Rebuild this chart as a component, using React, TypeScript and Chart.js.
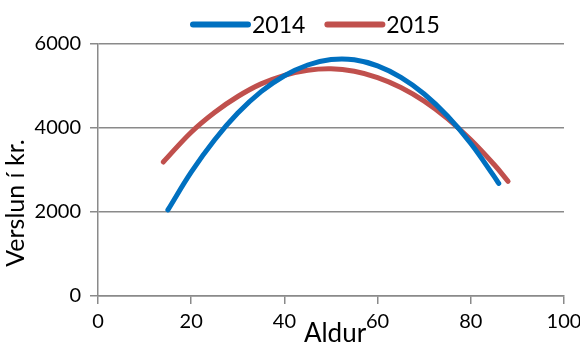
import React, { useEffect, useRef } from "react";
import { Chart, registerables } from "chart.js";

Chart.register(...registerables);

const seriesNames = ["2014", "2015"];
const ages2014 = [15, 20, 25, 30, 35, 40, 45, 50, 55, 60, 65, 70, 75, 80, 85, 86];
const spend2014 = [2050, 2950, 3716, 4355, 4865, 5245, 5500, 5630, 5625, 5480, 5206, 4810, 4285, 3631, 2847, 2680];
const ages2015 = [14, 20, 25, 30, 35, 40, 45, 50, 55, 60, 65, 70, 75, 80, 85, 88];
const spend2015 = [3190, 3900, 4370, 4750, 5050, 5255, 5375, 5410, 5350, 5200, 4965, 4640, 4225, 3720, 3130, 2730];
const seriesColors = ["#0070C0", "#C0504D"];
const xTickValues = [0, 20, 40, 60, 80, 100];
const yTickValues = [0, 2000, 4000, 6000];
const xTitle = "Aldur";
const yTitle = "Verslun í kr.";

const FONT = "Lato";
const GRID = "#8a8a8a";

const labelsPlugin = {
  id: "customLabels",
  afterDraw(chart: any) {
    const ctx = chart.ctx;
    const area = chart.chartArea;
    ctx.save();
    // legend
    ctx.font = `23px ${FONT}`;
    ctx.textBaseline = "middle";
    ctx.textAlign = "left";
    let x = area.left + 95;
    const ly = 24.5;
    chart.data.datasets.forEach((ds: any) => {
      ctx.strokeStyle = ds.borderColor;
      ctx.lineWidth = 6;
      ctx.lineCap = "round";
      ctx.beginPath();
      ctx.moveTo(x, ly);
      ctx.lineTo(x + 55, ly);
      ctx.stroke();
      ctx.fillStyle = "#000";
      ctx.fillText(ds.label, x + 59, ly + 1);
      x += 59 + ctx.measureText(ds.label).width + 22;
    });
    // x title
    ctx.font = `26px ${FONT}`;
    ctx.textAlign = "center";
    ctx.textBaseline = "middle";
    ctx.fillStyle = "#000";
    ctx.fillText(xTitle, (area.left + area.right) / 2 + 4, area.bottom + 38);
    // y title
    ctx.font = `25px ${FONT}`;
    ctx.translate(16, area.top + 159);
    ctx.rotate(-Math.PI / 2);
    ctx.fillText(yTitle, 0, 0);
    ctx.restore();
  },
};

export default function App() {
  const ref = useRef<HTMLCanvasElement>(null);
  useEffect(() => {
    const chart = new Chart(ref.current!, {
      type: "line",
      data: {
        datasets: [
          {
            label: seriesNames[0],
            data: ages2014.map((a, i) => ({ x: a, y: spend2014[i] })),
            borderColor: seriesColors[0],
            backgroundColor: seriesColors[0],
            borderWidth: 5,
            borderCapStyle: "round",
            pointRadius: 0,
            tension: 0.4,
          },
          {
            label: seriesNames[1],
            data: ages2015.map((a, i) => ({ x: a, y: spend2015[i] })),
            borderColor: seriesColors[1],
            backgroundColor: seriesColors[1],
            borderWidth: 5,
            borderCapStyle: "round",
            pointRadius: 0,
            tension: 0.4,
          },
        ],
      },
      options: {
        responsive: false,
        animation: false,
        layout: { padding: { top: 44, right: 16, bottom: 0, left: 0 } },
        plugins: { legend: { display: false }, tooltip: { enabled: false } },
        scales: {
          x: {
            type: "linear",
            min: 0,
            max: 100,
            afterFit: (s: any) => {
              s.height = 51;
              s.paddingLeft = 0;
              s.paddingRight = 0;
            },
            afterBuildTicks: (s: any) => {
              s.ticks = xTickValues.map((v) => ({ value: v }));
            },
            ticks: {
              font: { family: FONT, size: 20 },
              color: "#000",
              padding: 6,
              maxRotation: 0,
              callback: (v: any) => String(v),
            },
            grid: { drawOnChartArea: false, drawTicks: true, tickLength: 8, color: GRID, lineWidth: 1.5 },
            border: { display: true, color: GRID, width: 1.5 },
          },
          y: {
            min: 0,
            max: 6000,
            afterFit: (s: any) => {
              s.width = 98;
            },
            afterBuildTicks: (s: any) => {
              s.ticks = yTickValues.map((v) => ({ value: v }));
            },
            ticks: {
              font: { family: FONT, size: 20 },
              color: "#000",
              padding: 9,
              callback: (v: any) => String(v),
            },
            grid: { drawTicks: true, tickLength: 8, color: GRID, lineWidth: 1.5 },
            border: { display: true, color: GRID, width: 1.5 },
          },
        },
      },
      plugins: [labelsPlugin],
    });
    return () => chart.destroy();
  }, []);
  return (
    <div style={{ position: "absolute", left: 0, top: 0, width: 580, height: 347 }}>
      <canvas ref={ref} width={580} height={347} />
    </div>
  );
}
